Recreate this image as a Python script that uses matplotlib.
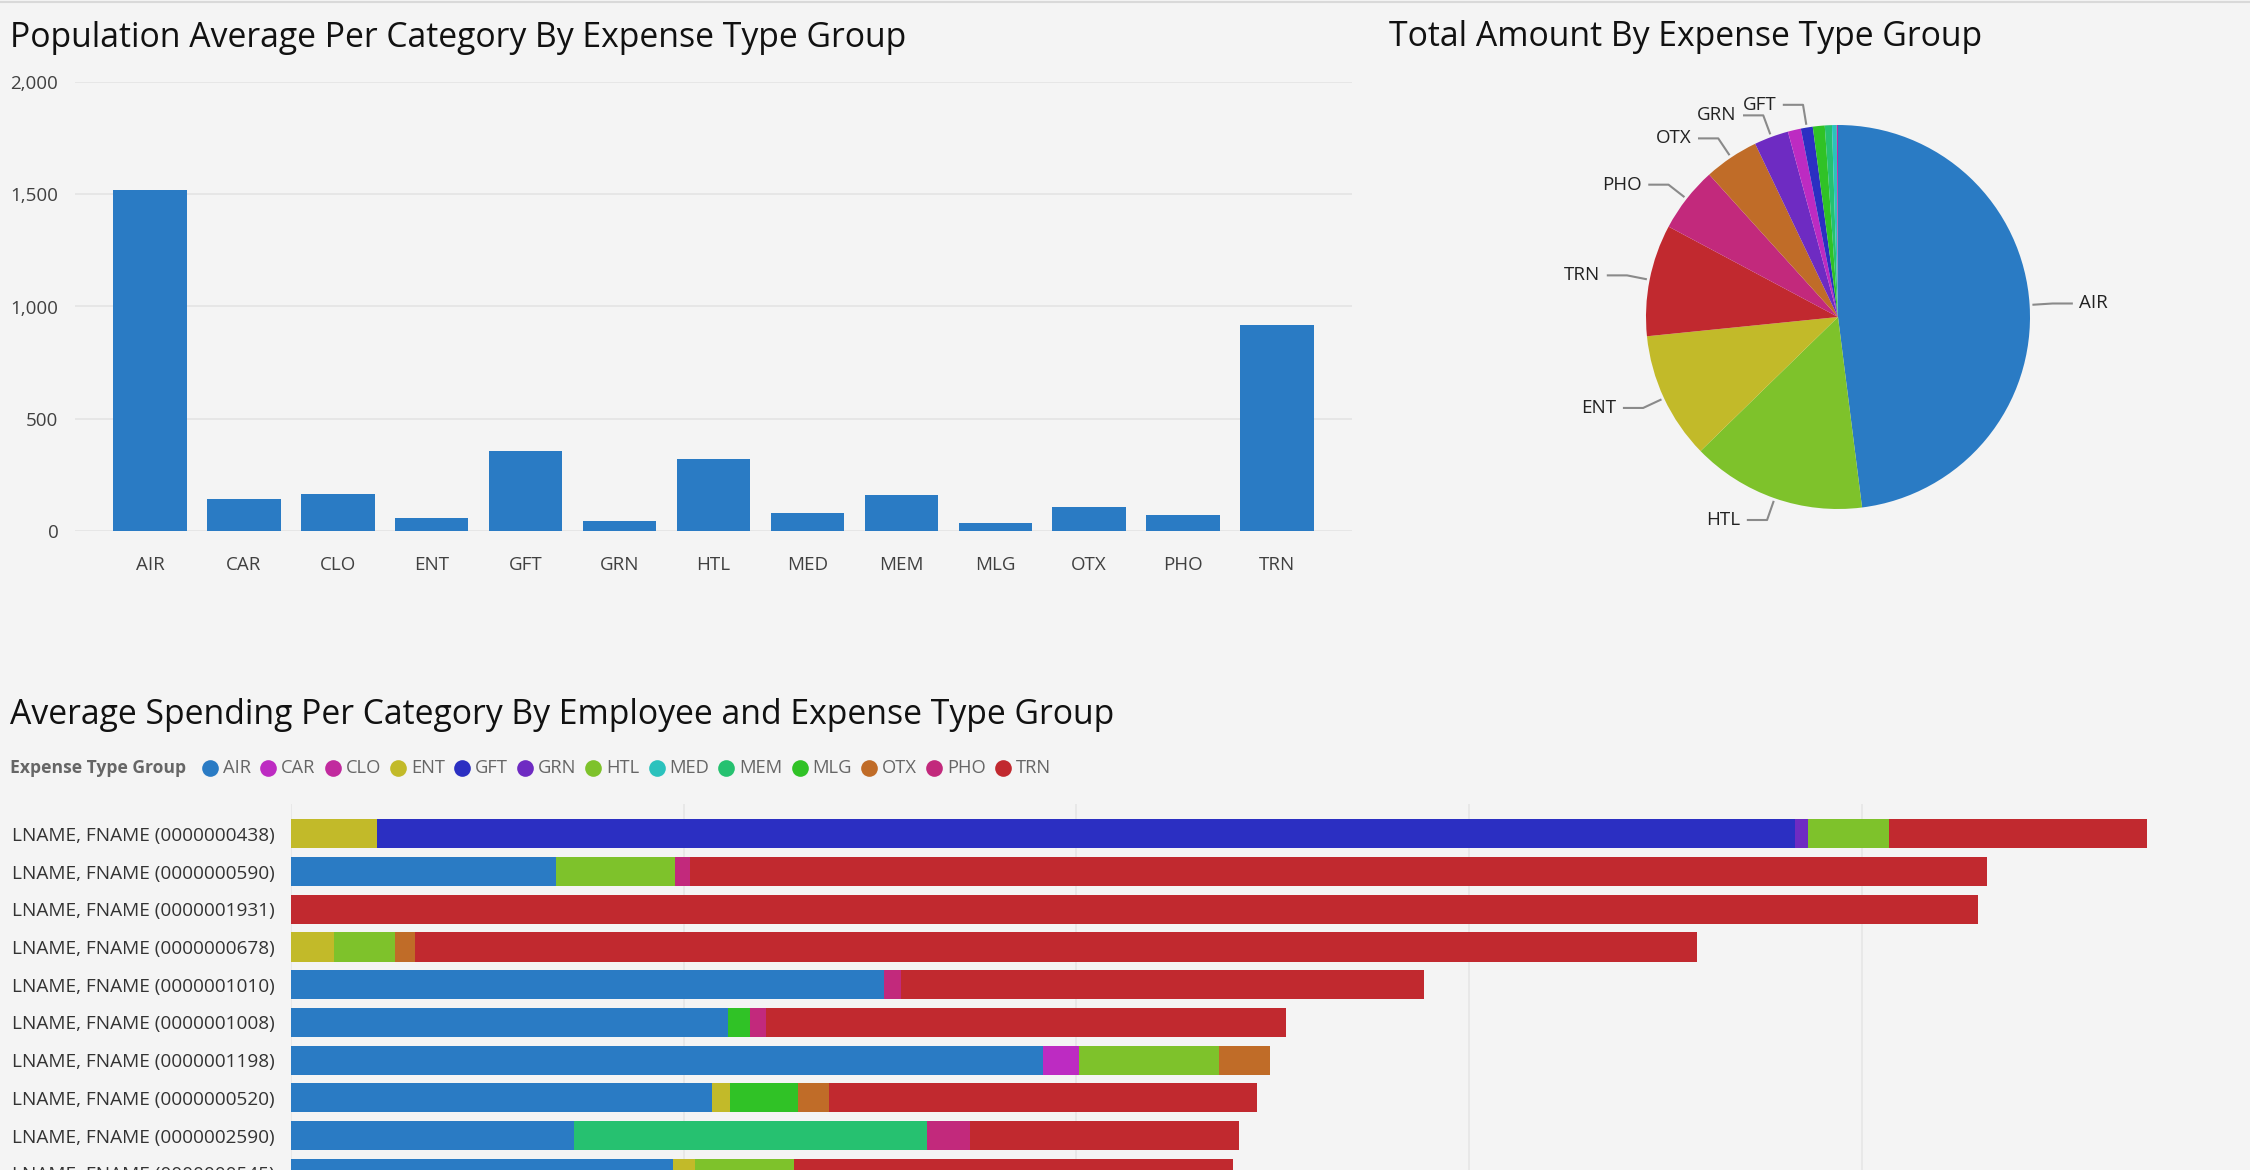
import numpy as np
import matplotlib.pyplot as plt
from matplotlib.lines import Line2D

plt.rcParams['font.family'] = ['Open Sans', 'DejaVu Sans']

W, H = 2250, 1170
BG = '#f4f4f4'

# expense type groups and their colours
categories = ['AIR', 'CAR', 'CLO', 'ENT', 'GFT', 'GRN', 'HTL',
              'MED', 'MEM', 'MLG', 'OTX', 'PHO', 'TRN']
colors = {
    'AIR': '#2a7bc4', 'CAR': '#bd2bc2', 'CLO': '#c12a9e', 'ENT': '#c2ba29',
    'GFT': '#2b2fc2', 'GRN': '#6e2bc2', 'HTL': '#7ec22b', 'MED': '#2bc2bd',
    'MEM': '#26c170', 'MLG': '#30c226', 'OTX': '#c06c28', 'PHO': '#c2297c',
    'TRN': '#c1292f',
}

# population average per category
population_avg = [1518, 141, 167, 60, 357, 44, 320, 82, 160, 36, 107, 73, 917]

# total amount share (pie, largest first)
pie_groups = ['AIR', 'HTL', 'ENT', 'TRN', 'PHO', 'OTX', 'GRN',
              'CAR', 'GFT', 'MLG', 'MEM', 'MED', 'CLO']
pie_share = [48.0, 14.7, 10.7, 9.4, 5.5, 4.6, 2.9, 1.1, 1.0, 1.0, 0.6, 0.4, 0.1]
pie_labeled = ['AIR', 'HTL', 'ENT', 'TRN', 'PHO', 'OTX', 'GRN', 'GFT']

# average spending per employee, one list per expense type group
employees = ['LNAME, FNAME (0000000438)', 'LNAME, FNAME (0000000590)',
             'LNAME, FNAME (0000001931)', 'LNAME, FNAME (0000000678)',
             'LNAME, FNAME (0000001010)', 'LNAME, FNAME (0000001008)',
             'LNAME, FNAME (0000001198)', 'LNAME, FNAME (0000000520)',
             'LNAME, FNAME (0000002590)', 'LNAME, FNAME (0000000545)']
spend = {
    'AIR': [0, 676, 0, 0, 1510, 1112, 1916, 1071, 720, 973],
    'CAR': [0, 0, 0, 0, 0, 0, 91, 0, 0, 0],
    'CLO': [0, 0, 0, 0, 0, 0, 0, 0, 0, 0],
    'ENT': [219, 0, 0, 110, 0, 0, 0, 48, 0, 55],
    'GFT': [3612, 0, 0, 0, 0, 0, 0, 0, 0, 0],
    'GRN': [33, 0, 0, 0, 0, 0, 0, 0, 0, 0],
    'HTL': [205, 303, 0, 154, 0, 0, 355, 0, 0, 252],
    'MED': [0, 0, 0, 0, 0, 0, 0, 0, 0, 0],
    'MEM': [0, 0, 0, 0, 0, 0, 0, 0, 899, 0],
    'MLG': [0, 0, 0, 0, 0, 58, 0, 172, 0, 0],
    'OTX': [0, 0, 0, 51, 0, 0, 132, 80, 0, 0],
    'PHO': [0, 37, 0, 0, 44, 40, 0, 0, 110, 0],
    'TRN': [658, 3302, 4296, 3265, 1331, 1324, 0, 1090, 684, 1119],
}


def box(left, top, right, bottom):
    # pixel box -> figure fraction rect
    return [left / W, 1 - bottom / H, (right - left) / W, (bottom - top) / H]


fig = plt.figure(figsize=(W / 100, H / 100), dpi=100, facecolor=BG)
fig.add_artist(Line2D([0, 1], [1 - 2 / H] * 2, color='#d9d9d9', lw=1.5))

title_kw = dict(fontsize=24.3, color='#111111', va='center', fontweight='normal')
fig.text(10 / W, 1 - 38 / H, 'Population Average Per Category By Expense Type Group', **title_kw)
fig.text(1389 / W, 1 - 37 / H, 'Total Amount By Expense Type Group', **title_kw)
fig.text(10 / W, 1 - 715 / H, 'Average Spending Per Category By Employee and Expense Type Group', **title_kw)

# column chart
ax1 = fig.add_axes(box(75, 82, 1352, 531))
ax1.set_facecolor(BG)
x = np.arange(len(categories))
ax1.bar(x, population_avg, width=0.78, color=colors['AIR'], zorder=3)
ax1.set_xlim(-0.8, len(categories) - 0.2)
ax1.set_ylim(0, 2000)
ax1.set_yticks([0, 500, 1000, 1500, 2000])
ax1.set_yticklabels([f'{v:,}' for v in [0, 500, 1000, 1500, 2000]])
ax1.set_xticks(x)
ax1.set_xticklabels(categories)
ax1.grid(axis='y', color='#e4e4e4', lw=1.2)
for s in ax1.spines.values():
    s.set_visible(False)
ax1.tick_params(axis='both', length=0, labelsize=13.5, labelcolor='#404040')
ax1.tick_params(axis='y', pad=12)
ax1.tick_params(axis='x', pad=18)

# pie chart
ax2 = fig.add_axes(box(1538, 17, 2138, 617))
lim = 300 / 192
wedges, _ = ax2.pie(pie_share, colors=[colors[g] for g in pie_groups],
                    startangle=90, counterclock=False, radius=1,
                    wedgeprops=dict(linewidth=0))
ax2.set_xlim(-lim, lim)
ax2.set_ylim(-lim, lim)
ax2.set_aspect('equal')
for w, g in zip(wedges, pie_groups):
    if g not in pie_labeled:
        continue
    ang = np.deg2rad((w.theta1 + w.theta2) / 2)
    c, s = np.cos(ang), np.sin(ang)
    side = 1 if c >= 0 else -1
    x0, y0 = 1.02 * c, 1.02 * s
    x1, y1 = 1.12 * c, 1.12 * s
    x2 = x1 + side * 0.1
    ax2.plot([x0, x1, x2], [y0, y1, y1], color='#8a8a8a', lw=1.5, clip_on=False)
    ax2.text(x2 + side * 0.04, y1, g, ha='left' if side > 0 else 'right',
             va='center', fontsize=13.5, color='#222222')

# stacked horizontal bars
ax3 = fig.add_axes(box(291, 804, 2240, 1196))
ax3.set_facecolor(BG)
y = np.arange(len(employees))
left = np.zeros(len(employees))
for cat in categories:
    vals = np.array(spend[cat], dtype=float)
    ax3.barh(y, vals, left=left, height=0.77, color=colors[cat], zorder=3)
    left += vals
ax3.set_xlim(0, (2240 - 291) / 392.7 * 1000)
ax3.set_ylim(9.6, -0.79)
ax3.set_xticks([0, 1000, 2000, 3000, 4000])
ax3.set_xticklabels([])
ax3.grid(axis='x', color='#e6e6e6', lw=1.2)
ax3.set_yticks(y)
ax3.set_yticklabels(employees)
for s in ax3.spines.values():
    s.set_visible(False)
ax3.tick_params(axis='both', length=0, labelsize=13.7, labelcolor='#333333')
ax3.tick_params(axis='y', pad=12)

# legend row
renderer = fig.canvas.get_renderer()
ly = 1 - 768 / H
t = fig.text(10 / W, ly, 'Expense Type Group', fontsize=12.6, fontweight='bold',
             color='#666666', va='center')
xp = t.get_window_extent(renderer).x1 + 16
for cat in categories:
    fig.add_artist(Line2D([(xp + 8) / W], [ly], marker='o', markersize=12,
                          markeredgewidth=0, color=colors[cat]))
    t = fig.text((xp + 21) / W, ly, cat, fontsize=13.2, color='#666666', va='center')
    xp = t.get_window_extent(renderer).x1 + 9

fig.savefig('out.png', dpi=100, facecolor=BG)
